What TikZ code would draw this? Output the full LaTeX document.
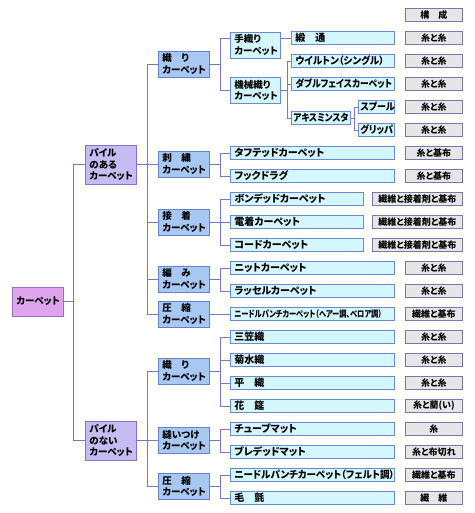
\documentclass[tikz,border=0pt]{standalone}
\usepackage{fontspec}
\setmainfont{Noto Sans CJK JP}[RawFeature=+palt]
\definecolor{rootfill}{RGB}{222,164,238}
\definecolor{rootbord}{RGB}{150,110,196}
\definecolor{lvonefill}{RGB}{196,188,242}
\definecolor{lvonebord}{RGB}{128,116,200}
\definecolor{lvtwofill}{RGB}{166,200,242}
\definecolor{lvtwobord}{RGB}{100,132,200}
\definecolor{leaffill}{RGB}{212,246,253}
\definecolor{leafbord}{RGB}{104,140,204}
\definecolor{compfill}{RGB}{230,230,232}
\definecolor{compbord}{RGB}{120,120,168}
\definecolor{linecol}{RGB}{120,120,200}
\begin{document}
\begin{tikzpicture}[x=1pt,y=-1pt,
  box/.style={draw, line width=0.9pt, inner ysep=0pt, inner xsep=4pt, anchor=west, align=left},
  rootbox/.style={box, fill=rootfill, draw=rootbord, minimum width=51pt, minimum height=29pt, align=center, font=\fontsize{9.5}{11}\selectfont\bfseries},
  lvone/.style={box, fill=lvonefill, draw=lvonebord, text width=43pt, minimum height=39pt, font=\fontsize{9.5}{11.5}\selectfont\bfseries},
  lvtwo/.style={box, fill=lvtwofill, draw=lvtwobord, text width=43pt, minimum height=26pt, font=\fontsize{9.5}{11.5}\selectfont\bfseries},
  lvthree/.style={box, fill=leaffill, draw=leafbord, text width=42pt, minimum height=26pt, font=\fontsize{9.5}{11.5}\selectfont\bfseries},
  leafbox/.style={box, fill=leaffill, draw=leafbord, text width=#1, minimum height=13pt, font=\fontsize{10}{11}\selectfont\bfseries},
  compbox/.style={draw, line width=0.9pt, fill=compfill, draw=compbord, anchor=west, inner sep=0pt, minimum width=#1, minimum height=13.5pt, align=center, font=\fontsize{9}{11}\selectfont\bfseries},
  conn/.style={draw=linecol, line width=0.9pt}
]
\useasboundingbox (0,0) rectangle (474,513);

% root and level 1
\node[rootbox] (root) at (12,301.5) {カーペット};
\node[lvone] (p1) at (85,164.5) {パイル\\のある\\カーペット};
\node[lvone] (p2) at (85,440.5) {パイル\\のない\\カーペット};

% level 2
\node[lvtwo] (a) at (158,64)    {織　り\\カーペット};
\node[lvtwo] (b) at (158,164)   {刺　繍\\カーペット};
\node[lvtwo] (c) at (158,222)   {接　着\\カーペット};
\node[lvtwo] (d) at (158,279)   {編　み\\カーペット};
\node[lvtwo] (e) at (158,314)   {圧　縮\\カーペット};
\node[lvtwo] (f) at (158,371)   {織　り\\カーペット};
\node[lvtwo] (g) at (158,440.5) {縫いつけ\\カーペット};
\node[lvtwo] (h) at (158,486.5) {圧　縮\\カーペット};

% level 3
\node[lvthree] (te) at (230,45)   {手織り\\カーペット};
\node[lvthree] (ki) at (230,90.5) {機械織り\\カーペット};

% leaves
\node[leafbox=95pt]  (l0)  at (291,38)  {緞　通};
\node[leafbox=95pt]  (l1)  at (291,61)  {\scalebox{0.95}[1]{ウイルトン（シングル）}};
\node[leafbox=95pt]  (l2)  at (291,84)  {\scalebox{0.88}[1]{ダブルフェイスカーペット}};
\node[leafbox=55pt, inner xsep=2pt]  (ax)  at (291,118) {\scalebox{0.86}[1]{アキスミンスタ}};
\node[leafbox=32pt, inner xsep=2pt]  (l3)  at (358,107) {\scalebox{0.9}[1]{スプール}};
\node[leafbox=32pt, inner xsep=2pt]  (l4)  at (358,130) {\scalebox{0.9}[1]{グリッパ}};
\node[leafbox=156pt] (l5)  at (230,153) {タフテッドカーペット};
\node[leafbox=156pt] (l6)  at (230,176) {フックドラグ};
\node[leafbox=125pt] (l7)  at (230,199) {ボンデッドカーペット};
\node[leafbox=125pt] (l8)  at (230,222) {電着カーペット};
\node[leafbox=125pt] (l9)  at (230,245) {コードカーペット};
\node[leafbox=156pt] (l10) at (230,268) {ニットカーペット};
\node[leafbox=156pt] (l11) at (230,291) {ラッセルカーペット};
\node[leafbox=156pt] (l12) at (230,314) {\scalebox{0.72}[0.9]{ニードルパンチカーペット（ヘアー調、ベロア調）}};
\node[leafbox=156pt] (l13) at (230,337) {三笠織};
\node[leafbox=156pt] (l14) at (230,360) {菊水織};
\node[leafbox=156pt] (l15) at (230,383) {平　織};
\node[leafbox=156pt] (l16) at (230,406) {花　筵};
\node[leafbox=156pt] (l17) at (230,429) {チューブマット};
\node[leafbox=156pt] (l18) at (230,452) {ブレデッドマット};
\node[leafbox=156pt] (l19) at (230,475) {\scalebox{0.95}[1]{ニードルパンチカーペット（フェルト調）}};
\node[leafbox=156pt] (l20) at (230,498) {毛　氈};

% composition column
\node[compbox=57pt] (k)   at (405,15)  {構　成};
\node[compbox=57pt] (r0)  at (405,38)  {糸と糸};
\node[compbox=57pt] (r1)  at (405,61)  {糸と糸};
\node[compbox=57pt] (r2)  at (405,84)  {糸と糸};
\node[compbox=57pt] (r3)  at (405,107) {糸と糸};
\node[compbox=57pt] (r4)  at (405,130) {糸と糸};
\node[compbox=57pt] (r5)  at (405,153) {糸と基布};
\node[compbox=57pt] (r6)  at (405,176) {糸と基布};
\node[compbox=90pt] (r7)  at (372,199) {繊維と接着剤と基布};
\node[compbox=90pt] (r8)  at (372,222) {繊維と接着剤と基布};
\node[compbox=90pt] (r9)  at (372,245) {繊維と接着剤と基布};
\node[compbox=57pt] (r10) at (405,268) {糸と糸};
\node[compbox=57pt] (r11) at (405,291) {糸と糸};
\node[compbox=57pt] (r12) at (405,314) {繊維と基布};
\node[compbox=57pt] (r13) at (405,337) {糸と糸};
\node[compbox=57pt] (r14) at (405,360) {糸と糸};
\node[compbox=57pt] (r15) at (405,383) {糸と糸};
\node[compbox=57pt] (r16) at (405,406) {糸と藺(い)};
\node[compbox=57pt] (r17) at (405,429) {糸};
\node[compbox=57pt] (r18) at (405,452) {糸と布切れ};
\node[compbox=57pt] (r19) at (405,475) {繊維と基布};
\node[compbox=57pt] (r20) at (405,498) {繊　維};

% bus coordinates
\coordinate (b0) at (73,0);
\coordinate (b1) at (147,0);
\coordinate (b2) at (220,0);
\coordinate (b3) at (287,0);
\coordinate (b4) at (354.5,0);

% root -> level 1
\draw[conn] (root.east) -- (root.east -| b0);
\draw[conn] (p1.west) -- (p1.west -| b0) -- (p2.west -| b0) -- (p2.west);

% level 1 -> level 2
\draw[conn] (p1.east) -- (p1.east -| b1);
\draw[conn] (a.west) -- (a.west -| b1) -- (e.west -| b1) -- (e.west);
\draw[conn] (b.west) -- (b.west -| b1);
\draw[conn] (c.west) -- (c.west -| b1);
\draw[conn] (d.west) -- (d.west -| b1);
\draw[conn] (p2.east) -- (p2.east -| b1);
\draw[conn] (f.west) -- (f.west -| b1) -- (h.west -| b1) -- (h.west);
\draw[conn] (g.west) -- (g.west -| b1);

% 織りカーペット
\draw[conn] (a.east) -- (a.east -| b2);
\draw[conn] (te.west |- l0.west) -- (l0.west -| b2) -- (ki.west -| b2) -- (ki.west);
\draw[conn] (l0.west) -- (l0.west -| te.east);
\draw[conn] (ki.east) -- (ki.east -| b3);
\draw[conn] (l1.west) -- (l1.west -| b3) -- (ax.west -| b3) -- (ax.west);
\draw[conn] (l2.west) -- (l2.west -| b3);
\draw[conn] (ax.east) -- (ax.east -| b4);
\draw[conn] (l3.west) -- (l3.west -| b4) -- (l4.west -| b4) -- (l4.west);

% 刺繍
\draw[conn] (b.east) -- (b.east -| b2);
\draw[conn] (l5.west) -- (l5.west -| b2) -- (l6.west -| b2) -- (l6.west);
% 接着
\draw[conn] (c.east) -- (c.east -| b2);
\draw[conn] (l7.west) -- (l7.west -| b2) -- (l9.west -| b2) -- (l9.west);
\draw[conn] (l8.west) -- (l8.west -| b2);
% 編み
\draw[conn] (d.east) -- (d.east -| b2);
\draw[conn] (l10.west) -- (l10.west -| b2) -- (l11.west -| b2) -- (l11.west);
% 圧縮
\draw[conn] (e.east) -- (l12.west);
% 織り (no pile)
\draw[conn] (f.east) -- (f.east -| b2);
\draw[conn] (l13.west) -- (l13.west -| b2) -- (l16.west -| b2) -- (l16.west);
\draw[conn] (l14.west) -- (l14.west -| b2);
\draw[conn] (l15.west) -- (l15.west -| b2);
% 縫いつけ
\draw[conn] (g.east) -- (g.east -| b2);
\draw[conn] (l17.west) -- (l17.west -| b2) -- (l18.west -| b2) -- (l18.west);
% 圧縮 (no pile)
\draw[conn] (h.east) -- (h.east -| b2);
\draw[conn] (l19.west) -- (l19.west -| b2) -- (l20.west -| b2) -- (l20.west);
\end{tikzpicture}
\end{document}
